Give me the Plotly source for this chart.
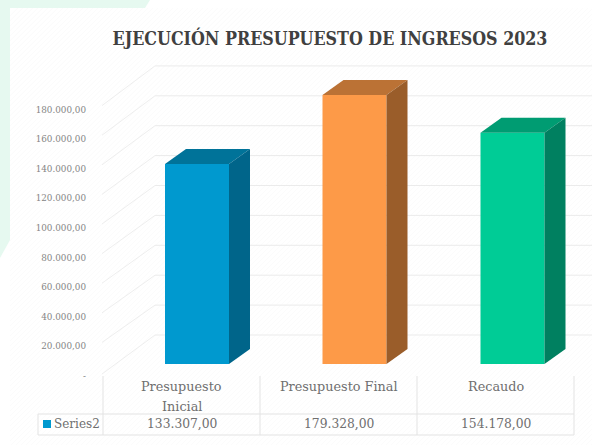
import plotly.graph_objects as go

W, H = 592, 445
title = "EJECUCIÓN PRESUPUESTO DE INGRESOS 2023"
categories = ["Presupuesto<br>Inicial", "Presupuesto Final", "Recaudo"]
values = [133307, 179328, 154178]
value_labels = ["133.307,00", "179.328,00", "154.178,00"]
series_name = "Series2"
axis_ticks = [0, 20000, 40000, 60000, 80000, 100000, 120000, 140000, 160000, 180000]
axis_labels = ["-", "20.000,00", "40.000,00", "60.000,00", "80.000,00", "100.000,00",
               "120.000,00", "140.000,00", "160.000,00", "180.000,00"]
front_colors = ["#0099cf", "#fd9a48", "#00cc96"]
top_colors = ["#007399", "#bb7235", "#009c72"]
side_colors = ["#00658a", "#9a5d2a", "#008060"]

FONT = "DejaVu Serif"
GRAY = "#6f6f6f"
GREEN = "#e6f9f0"

PX_PER_UNIT = 0.0015
Y0 = 364
L = 90


def y_of_px(py):
    return (Y0 - py) / PX_PER_UNIT


def xp(x):
    return (x - L) / (W - L)


def yp(y):
    return 1 - y / H


dx_depth, dy_depth = 21, 15 / PX_PER_UNIT
bar_w = 64
centers = [197, 354.5, 512.5]
xs = [c - L for c in centers]

fig = go.Figure()
fig.add_trace(go.Bar(x=xs, y=values, width=bar_w, marker=dict(color=front_colors, line_width=0),
                     hoverinfo="skip", showlegend=False))
for xc, v, tc, sc in zip(xs, values, top_colors, side_colors):
    x0, x1 = xc - bar_w / 2, xc + bar_w / 2
    fig.add_trace(go.Scatter(x=[x0, x1, x1 + dx_depth, x0 + dx_depth, x0],
                             y=[v, v, v + dy_depth, v + dy_depth, v],
                             fill="toself", fillcolor=tc, mode="none", hoverinfo="skip", showlegend=False))
    fig.add_trace(go.Scatter(x=[x1, x1 + dx_depth, x1 + dx_depth, x1, x1],
                             y=[0, dy_depth, v + dy_depth, v, 0],
                             fill="toself", fillcolor=sc, mode="none", hoverinfo="skip", showlegend=False))
fig.add_trace(go.Scatter(x=[0], y=[0], yaxis="y2", mode="markers", marker=dict(opacity=0),
                         hoverinfo="skip", showlegend=False))

shapes = []
annotations = []


def poly(points, color):
    d = "M" + " L".join(f"{xp(a):.5f},{yp(b):.5f}" for a, b in points) + " Z"
    shapes.append(dict(type="path", xref="paper", yref="paper", path=d, fillcolor=color,
                       line_width=0, layer="below"))


def line(x0, y0, x1, y1, color="#e3e3e3", width=1):
    shapes.append(dict(type="line", xref="paper", yref="paper", x0=xp(x0), x1=xp(x1), y0=yp(y0), y1=yp(y1),
                       line=dict(color=color, width=width), layer="below"))


# page background
poly([(0, 0), (150, 0), (145, 8), (10, 8), (10, 240), (0, 258)], GREEN)

# faint diagonal hatch
hatch = ""
for k in range(18, 1040, 5):
    xa, ya = k, 8
    if xa > W:
        ya += xa - W
        xa = W
    xb, yb = k - 437, 445
    if xb < 10:
        yb -= 10 - xb
        xb = 10
    if ya < yb:
        hatch += f"M{xp(xa):.5f},{yp(ya):.5f} L{xp(xb):.5f},{yp(yb):.5f} "
shapes.append(dict(type="path", xref="paper", yref="paper", path=hatch,
                   line=dict(color="#fbfbfb", width=1), layer="below"))

# gridlines: slanted side wall and back wall
for t in axis_ticks:
    by = 335 - t * 29.9 / 20000
    fy = 374 - t * 29.6 / 20000 - (2 if t else 0)
    line(102, fy, 155, by, "#eeeeee")
    line(155, by, W, by, "#ebebeb")

# data table
table_cols = [103, 260, 417, 574]
for c in table_cols:
    line(c, 376, c, 435)
line(38, 414, 574, 414)
line(38, 435, 574, 435)
line(38, 414, 38, 435)
poly([(43, 420), (51, 420), (51, 428), (43, 428)], front_colors[0])


def text(x, y, s, size=12.5, color=GRAY, xanchor="center"):
    annotations.append(dict(x=xp(x), y=yp(y), xref="paper", yref="paper", text=s, showarrow=False,
                            font=dict(family=FONT, size=size, color=color), xanchor=xanchor, yanchor="middle"))


for i, c in enumerate(categories):
    mid = (table_cols[i] + table_cols[i + 1]) / 2
    for j, part in enumerate(c.split("<br>")):
        text(mid, 386.5 + 20 * j, part, size=12.8)
    text(mid, 424, value_labels[i], size=12.3)
annotations.append(dict(x=xp(52), y=yp(424), xref="paper", yref="paper", text=series_name, showarrow=False,
                        font=dict(family=FONT, size=12, color=GRAY), xanchor="left", yanchor="middle"))

fig.update_layout(
    width=W, height=H, autosize=False,
    margin=dict(l=L, r=0, t=0, b=0, autoexpand=False),
    paper_bgcolor="#ffffff", plot_bgcolor="rgba(0,0,0,0)",
    title=dict(text=title, x=330 / W, y=1 - 39 / H, xanchor="center", yanchor="middle",
               font=dict(family="DejaVu Serif Condensed", size=17.7, color="#404040", weight="bold")),
    xaxis=dict(range=[0, W - L], visible=False, fixedrange=True),
    yaxis=dict(range=[y_of_px(H), y_of_px(0)], visible=False, fixedrange=True),
    yaxis2=dict(overlaying="y", side="left",
                range=[(376 - H) / 29.6 * 20000, 376 / 29.6 * 20000],
                tickvals=axis_ticks, ticktext=axis_labels, showgrid=False, zeroline=False, showline=False,
                ticks="", ticklabelstandoff=3, tickfont=dict(family=FONT, size=8.8, color="#858585"),
                fixedrange=True),
    shapes=shapes, annotations=annotations,
)
fig.write_html("out.html", config=dict(displayModeBar=False),
               post_script="document.body.style.margin='0';document.body.style.overflow='hidden';")
